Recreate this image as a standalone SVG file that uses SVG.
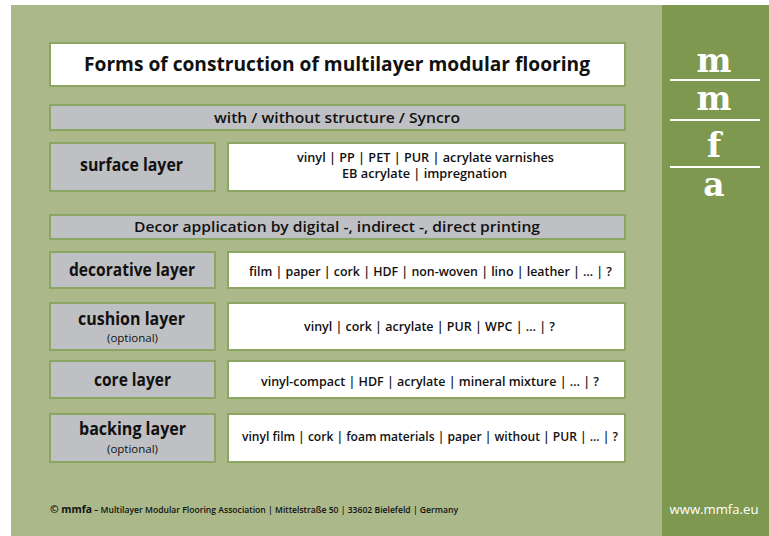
<svg xmlns="http://www.w3.org/2000/svg" width="769" height="536" viewBox="0 0 769 536">
<style>
.bg{fill:#abb98a}
.side{fill:#7e984f}
.box{stroke:#8ba663;stroke-width:2}
.w{fill:#ffffff}
.g{fill:#bfc0c3}
text{font-family:"Open Sans","Liberation Sans",sans-serif;fill:#111;text-anchor:middle}
.t{font-size:20px;font-weight:700}
.bar{font-size:15px;font-weight:600}
.lay{font-size:17px;font-weight:700}
.opt{font-size:10px;font-weight:400}
.mat{font-size:12.5px;font-weight:600}
.logo{font-family:"DejaVu Serif",serif;font-weight:700;font-size:33px;fill:#fff}
.foot{font-size:8px;font-weight:600;text-anchor:start}
.footb{font-size:11px;font-weight:700;text-anchor:start}
.url{font-size:13px;font-weight:400;fill:#fff}
</style>
<rect x="0" y="0" width="769" height="536" fill="#ffffff"/>
<rect class="bg" x="11" y="5" width="758" height="531"/>
<rect class="side" x="662" y="5" width="107" height="531"/>
<g id="logo">
<text class="logo" x="714" y="72" textLength="35" lengthAdjust="spacingAndGlyphs">m</text>
<line x1="670" y1="80" x2="760" y2="80" stroke="#fff" stroke-width="2"/>
<text class="logo" x="714" y="110" textLength="35" lengthAdjust="spacingAndGlyphs">m</text>
<line x1="670" y1="120" x2="760" y2="120" stroke="#fff" stroke-width="2"/>
<text class="logo" x="714" y="157">f</text>
<line x1="670" y1="167" x2="760" y2="167" stroke="#fff" stroke-width="2"/>
<text class="logo" x="714" y="196">a</text>
</g>
<g id="title">
<rect class="box w" x="50" y="43" width="575" height="43"/>
<text class="t" x="337" y="71" textLength="506" lengthAdjust="spacingAndGlyphs">Forms of construction of multilayer modular flooring</text>
</g>
<g id="structure">
<rect class="box g" x="50" y="105" width="575" height="25"/>
<text class="bar" x="337" y="122.5" textLength="246" lengthAdjust="spacingAndGlyphs">with / without structure / Syncro</text>
</g>
<g id="surface">
<rect class="box g" x="50" y="143" width="165" height="48"/>
<text class="lay" x="131.5" y="171" textLength="103" lengthAdjust="spacingAndGlyphs">surface layer</text>
</g>
<g id="surface-materials">
<rect class="box w" x="228" y="143" width="397" height="48"/>
<text class="mat" x="425.5" y="162" textLength="257" lengthAdjust="spacingAndGlyphs">vinyl | PP | PET | PUR | acrylate varnishes</text>
<text class="mat" x="424.5" y="178" textLength="165" lengthAdjust="spacingAndGlyphs">EB acrylate | impregnation</text>
</g>
<g id="decor">
<rect class="box g" x="50" y="215" width="575" height="24"/>
<text class="bar" x="337" y="232" textLength="406" lengthAdjust="spacingAndGlyphs">Decor application by digital -, indirect -, direct printing</text>
</g>
<g id="decorative">
<rect class="box g" x="50" y="252" width="165" height="36"/>
<text class="lay" x="132" y="276" textLength="126" lengthAdjust="spacingAndGlyphs">decorative layer</text>
</g>
<g id="decorative-materials">
<rect class="box w" x="228" y="252" width="397" height="36"/>
<text class="mat" x="430.5" y="276" textLength="363" lengthAdjust="spacingAndGlyphs">film | paper | cork | HDF | non-woven | lino | leather  | … | ?</text>
</g>
<g id="cushion">
<rect class="box g" x="50" y="303" width="165" height="47"/>
<text class="lay" x="131.5" y="325" textLength="107" lengthAdjust="spacingAndGlyphs">cushion layer</text>
<text class="opt" x="132.5" y="342" textLength="51" lengthAdjust="spacingAndGlyphs">(optional)</text>
</g>
<g id="cushion-materials">
<rect class="box w" x="228" y="303" width="397" height="47"/>
<text class="mat" x="429.5" y="331" textLength="251" lengthAdjust="spacingAndGlyphs">vinyl | cork | acrylate | PUR | WPC | … | ?</text>
</g>
<g id="core">
<rect class="box g" x="50" y="361" width="165" height="37"/>
<text class="lay" x="132.5" y="386" textLength="77" lengthAdjust="spacingAndGlyphs">core layer</text>
</g>
<g id="core-materials">
<rect class="box w" x="228" y="361" width="397" height="37"/>
<text class="mat" x="430" y="386" textLength="338" lengthAdjust="spacingAndGlyphs">vinyl-compact | HDF | acrylate | mineral mixture | … | ?</text>
</g>
<g id="backing">
<rect class="box g" x="50" y="414" width="165" height="48"/>
<text class="lay" x="132.5" y="435" textLength="107" lengthAdjust="spacingAndGlyphs">backing layer</text>
<text class="opt" x="132.5" y="453" textLength="51" lengthAdjust="spacingAndGlyphs">(optional)</text>
</g>
<g id="backing-materials">
<rect class="box w" x="228" y="414" width="397" height="48"/>
<text class="mat" x="430" y="441" textLength="376" lengthAdjust="spacingAndGlyphs">vinyl film | cork | foam materials | paper | without | PUR | … | ?</text>
</g>
<g id="connectors"></g>
<g id="footer">
<text class="footb" x="50" y="513" textLength="42" lengthAdjust="spacingAndGlyphs">© mmfa</text>
<text class="foot" x="94" y="513" textLength="364" lengthAdjust="spacingAndGlyphs">– Multilayer Modular Flooring Association | Mittelstraße 50 | 33602 Bielefeld | Germany</text>
<text class="url" x="714" y="514" textLength="89" lengthAdjust="spacingAndGlyphs">www.mmfa.eu</text>
</g>
</svg>
